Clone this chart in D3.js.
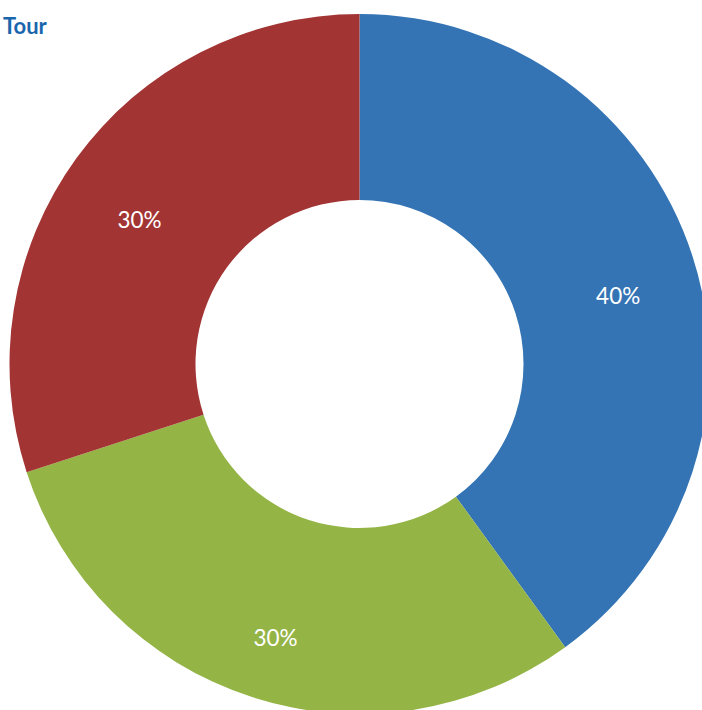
<!DOCTYPE html>
<html lang="en">
<head>
    <meta charset="UTF-8">
    <script src="https://cdnjs.cloudflare.com/ajax/libs/d3/7.6.1/d3.min.js"></script>
    <title>Tour</title>
    <style>
        body { margin: 0; background: #fff; }
        svg { display: block; }
    </style>
</head>
<body>
    <div id="container"></div>
    <script>
        // data
        const categories = ["A", "B", "C"]
        const values = [40, 30, 30]
        const colors = ["#3474b4", "#94b446", "#a33434"]
        const title = "Tour"

        const width = 702, height = 710
        const cx = 359.5, cy = 364
        const outerR = 350, innerR = 164

        const svg = d3.select("#container").append("svg")
            .attr("width", width)
            .attr("height", height)

        const pie = d3.pie().sort(null).value(d => d)
        const arcs = pie(values)

        const arc = d3.arc().innerRadius(innerR).outerRadius(outerR)
        const labelArc = d3.arc().innerRadius(272).outerRadius(272)

        const g = svg.append("g").attr("transform", `translate(${cx},${cy})`)

        g.selectAll("path")
            .data(arcs)
            .enter()
            .append("path")
            .attr("d", arc)
            .attr("fill", (d, i) => colors[i])

        // percentage labels, pushed down a bit like the original
        const total = d3.sum(values)
        g.selectAll("text")
            .data(arcs)
            .enter()
            .append("text")
            .attr("transform", d => `translate(${labelArc.centroid(d)})`)
            .attr("text-anchor", "middle")
            .attr("dy", "1.05em")
            .attr("fill", "#ffffff")
            .style("font-family", "Lato, 'Open Sans', sans-serif")
            .style("font-size", "22.5px")
            .text(d => Math.round(d.data / total * 100) + "%")

        // title
        svg.append("text")
            .attr("x", 3)
            .attr("y", 34)
            .attr("fill", "#1a66ad")
            .style("font-family", "Lato, 'Open Sans', sans-serif")
            .style("font-weight", "bold")
            .style("font-size", "22px")
            .text(title)
    </script>
</body>
</html>
